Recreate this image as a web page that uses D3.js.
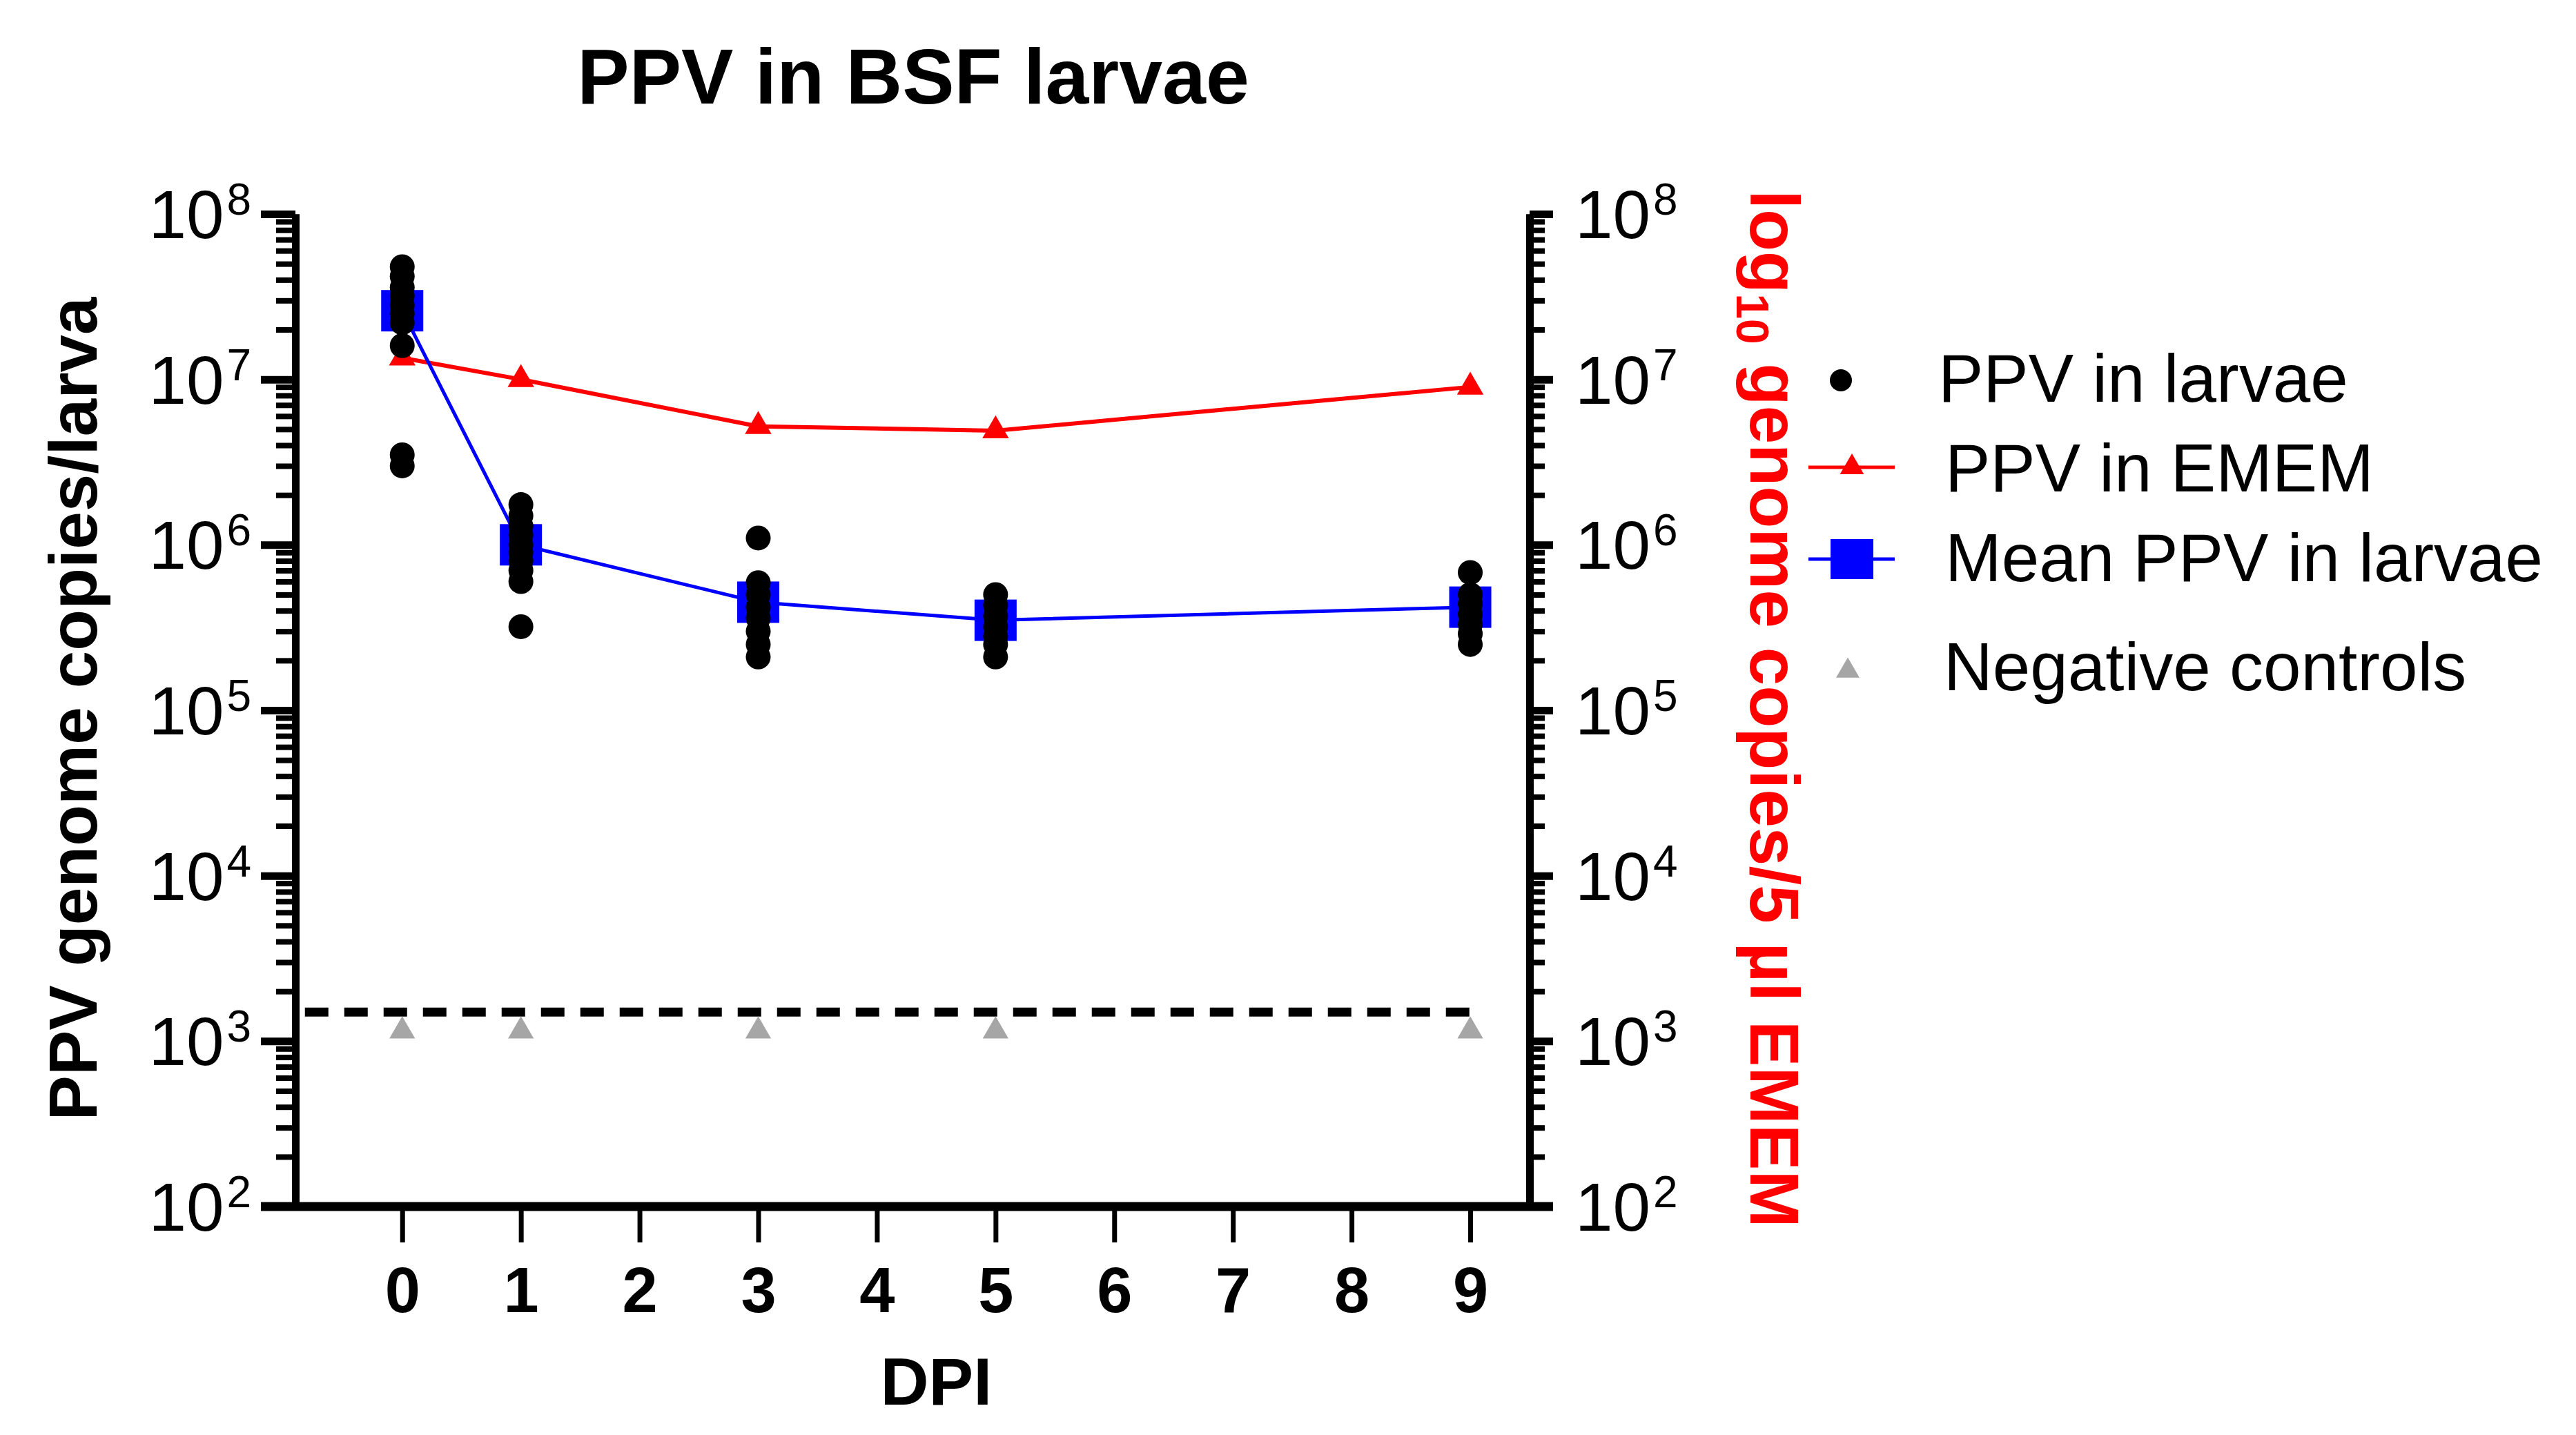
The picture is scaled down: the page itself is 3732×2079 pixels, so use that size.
<!DOCTYPE html>
<html>
<head>
<meta charset="utf-8">
<script src="https://cdn.jsdelivr.net/npm/d3@7"></script>
<style>
  body { margin: 0; background: #fff; }
  text { font-family: Arial, "Liberation Sans", sans-serif; }
</style>
</head>
<body>
<script>
const WIDTH = 3732;
const HEIGHT = 2079;

// data
const days = [0, 1, 3, 5, 9];
const larvaeDay0 = [4.8e7, 4.2e7, 3.6e7, 3.2e7, 2.8e7, 2.5e7, 2.2e7, 1.6e7, 3.5e6, 3.0e6];
const larvaeDay1 = [1.75e6, 1.5e6, 1.3e6, 1.15e6, 1.0e6, 9.0e5, 8.0e5, 7.0e5, 6.0e5, 3.2e5];
const larvaeDay3 = [1.1e6, 5.9e5, 5.0e5, 4.2e5, 3.6e5, 3.0e5, 2.5e5, 2.1e5];
const larvaeDay5 = [5.0e5, 4.3e5, 3.7e5, 3.2e5, 2.8e5, 2.5e5, 2.1e5];
const larvaeDay9 = [6.8e5, 5.0e5, 4.4e5, 3.8e5, 3.3e5, 2.9e5, 2.5e5];
const ememValues = [1.35e7, 1.0e7, 5.2e6, 4.9e6, 9.0e6];
const meanValues = [2.6e7, 1.0e6, 4.5e5, 3.5e5, 4.2e5];
const negativeValues = [1.15e3, 1.15e3, 1.15e3, 1.15e3, 1.15e3];
const detectionLimit = 1.5e3;
const limitSpan = [-0.82, 9];

const xTicks = [0, 1, 2, 3, 4, 5, 6, 7, 8, 9];
const yExponents = [2, 3, 4, 5, 6, 7, 8];
const legendLabels = ["PPV in larvae", "PPV in EMEM", "Mean PPV in larvae", "Negative controls"];

const larvae = [larvaeDay0, larvaeDay1, larvaeDay3, larvaeDay5, larvaeDay9];
const larvaePoints = [];
larvae.forEach((vals, i) => vals.forEach(v => larvaePoints.push({ day: days[i], v })));

const x = d3.scaleLinear().domain([-0.9, 9.5]).range([428, 2216]);
const y = d3.scaleLog().domain([1e2, 1e8]).range([1748, 310]);

const majorTicks = yExponents.map(e => Math.pow(10, e));
const minorTicks = [];
yExponents.slice(0, -1).forEach(e => {
    for (let k = 2; k <= 9; k++) minorTicks.push(k * Math.pow(10, e));
});

const svg = d3.select("body").append("svg")
    .attr("width", WIDTH)
    .attr("height", HEIGHT);

// title
svg.append("text")
    .attr("x", 1323).attr("y", 150)
    .attr("text-anchor", "middle")
    .style("font-size", "113px").style("font-weight", "bold")
    .text("PPV in BSF larvae");

function styleAxis(g, width) {
    g.select(".domain").attr("stroke", "#000").attr("stroke-width", width);
    g.selectAll(".tick line").attr("stroke", "#000");
    g.selectAll(".tick text").remove();
}

// left axis
const leftMinor = svg.append("g").attr("transform", `translate(${x.range()[0]},0)`)
    .call(d3.axisLeft(y).tickValues(minorTicks).tickSize(28).tickSizeOuter(0).tickFormat(""));
styleAxis(leftMinor, 11);
leftMinor.selectAll(".tick line").attr("stroke-width", 8);

const leftMajor = svg.append("g").attr("transform", `translate(${x.range()[0]},0)`)
    .call(d3.axisLeft(y).tickValues(majorTicks).tickSize(50).tickSizeOuter(0).tickFormat(""));
styleAxis(leftMajor, 11);
leftMajor.selectAll(".tick line").attr("stroke-width", 11);

// right axis
const rightMinor = svg.append("g").attr("transform", `translate(${x.range()[1]},0)`)
    .call(d3.axisRight(y).tickValues(minorTicks).tickSize(22).tickSizeOuter(0).tickFormat(""));
styleAxis(rightMinor, 11);
rightMinor.selectAll(".tick line").attr("stroke-width", 8);

const rightMajor = svg.append("g").attr("transform", `translate(${x.range()[1]},0)`)
    .call(d3.axisRight(y).tickValues(majorTicks).tickSize(34).tickSizeOuter(0).tickFormat(""));
styleAxis(rightMajor, 11);
rightMajor.selectAll(".tick line").attr("stroke-width", 11);

// power-of-ten labels
function powerLabels(xPos, anchor) {
    const t = svg.append("g").selectAll("text")
        .data(yExponents).enter()
        .append("text")
        .attr("x", xPos)
        .attr("y", e => y(Math.pow(10, e)) + 35)
        .attr("text-anchor", anchor)
        .style("font-size", "98px");
    t.append("tspan").text("10");
    t.append("tspan").attr("dy", -34).attr("dx", 4).style("font-size", "64px").text(e => e);
}
powerLabels(364, "end");
powerLabels(2282, "start");

// bottom axis
const bottom = svg.append("g").attr("transform", `translate(0,${y.range()[0]})`)
    .call(d3.axisBottom(x).tickValues(xTicks).tickSize(52).tickSizeOuter(0).tickFormat(d3.format("d")));
bottom.select(".domain").remove();
bottom.selectAll(".tick line").attr("stroke", "#000").attr("stroke-width", 7);
bottom.selectAll(".tick text")
    .attr("y", 88).attr("dy", "0.71em")
    .attr("fill", "#000")
    .style("font-size", "92px").style("font-weight", "bold")
    .style("font-family", "Arial, 'Liberation Sans', sans-serif");
svg.append("line")
    .attr("x1", 378).attr("x2", 2250)
    .attr("y1", y.range()[0]).attr("y2", y.range()[0])
    .attr("stroke", "#000").attr("stroke-width", 13);

svg.append("text")
    .attr("x", x(4.5)).attr("y", 2035)
    .attr("text-anchor", "middle")
    .style("font-size", "97px").style("font-weight", "bold")
    .text("DPI");

// axis titles
svg.append("text")
    .attr("transform", `translate(140,1027) rotate(-90)`)
    .attr("text-anchor", "middle")
    .style("font-size", "98px").style("font-weight", "bold")
    .text("PPV genome copies/larva");

const rightTitle = svg.append("text")
    .attr("transform", `translate(2536,1027) rotate(90)`)
    .attr("text-anchor", "middle")
    .attr("fill", "#ff0000")
    .style("font-size", "100px").style("font-weight", "bold");
rightTitle.append("tspan").text("log");
rightTitle.append("tspan").attr("dy", 20).style("font-size", "66px").text("10");
rightTitle.append("tspan").attr("dy", -20).text(" genome copies/5 \u00b5l EMEM");

// limit of detection
svg.append("line")
    .attr("x1", x(limitSpan[0])).attr("x2", x(limitSpan[1]))
    .attr("y1", y(detectionLimit)).attr("y2", y(detectionLimit))
    .attr("stroke", "#000").attr("stroke-width", 13)
    .attr("stroke-dasharray", "34 23");

// negative controls
const tri = d3.symbol().type(d3.symbolTriangle);
svg.selectAll(".neg")
    .data(days).enter()
    .append("path")
    .attr("class", "neg")
    .attr("transform", (d, i) => `translate(${x(d)},${y(negativeValues[i])})`)
    .attr("d", tri.size(600)())
    .attr("fill", "#a6a6a6");

// EMEM series
const line = d3.line().x(d => x(d[0])).y(d => y(d[1]));
svg.append("path")
    .attr("d", line(days.map((d, i) => [d, ememValues[i]])))
    .attr("fill", "none").attr("stroke", "#ff0000").attr("stroke-width", 6);
svg.selectAll(".emem")
    .data(days).enter()
    .append("path")
    .attr("class", "emem")
    .attr("transform", (d, i) => `translate(${x(d)},${y(ememValues[i])})`)
    .attr("d", tri.size(640)())
    .attr("fill", "#ff0000");

// mean series
svg.append("path")
    .attr("d", line(days.map((d, i) => [d, meanValues[i]])))
    .attr("fill", "none").attr("stroke", "#0000ff").attr("stroke-width", 5);
svg.selectAll(".mean")
    .data(days).enter()
    .append("rect")
    .attr("class", "mean")
    .attr("x", d => x(d) - 30.5)
    .attr("y", (d, i) => y(meanValues[i]) - 30)
    .attr("width", 61).attr("height", 60)
    .attr("fill", "#0000ff");

// individual larvae
svg.selectAll(".dot")
    .data(larvaePoints).enter()
    .append("circle")
    .attr("class", "dot")
    .attr("cx", d => x(d.day))
    .attr("cy", d => y(d.v))
    .attr("r", 18)
    .attr("fill", "#000");

// legend
const lg = svg.append("g");
const rowY = [551, 677, 810, 972];
lg.append("circle").attr("cx", 2667).attr("cy", rowY[0]).attr("r", 16).attr("fill", "#000");
lg.append("line").attr("x1", 2620).attr("x2", 2745).attr("y1", rowY[1]).attr("y2", rowY[1])
    .attr("stroke", "#ff0000").attr("stroke-width", 5);
lg.append("path").attr("transform", `translate(2683,${rowY[1]})`)
    .attr("d", tri.size(520)()).attr("fill", "#ff0000");
lg.append("line").attr("x1", 2620).attr("x2", 2745).attr("y1", rowY[2]).attr("y2", rowY[2])
    .attr("stroke", "#0000ff").attr("stroke-width", 5);
lg.append("rect").attr("x", 2652).attr("y", rowY[2] - 29).attr("width", 62).attr("height", 58)
    .attr("fill", "#0000ff");
lg.append("path").attr("transform", `translate(2677,${rowY[3]})`)
    .attr("d", tri.size(500)()).attr("fill", "#a6a6a6");

const textX = [2808, 2818, 2818, 2816];
const baseY = [582, 712, 842, 1000];
lg.selectAll(".lt")
    .data(legendLabels).enter()
    .append("text")
    .attr("x", (d, i) => textX[i])
    .attr("y", (d, i) => baseY[i])
    .style("font-size", "98px")
    .text(d => d);
</script>
</body>
</html>
